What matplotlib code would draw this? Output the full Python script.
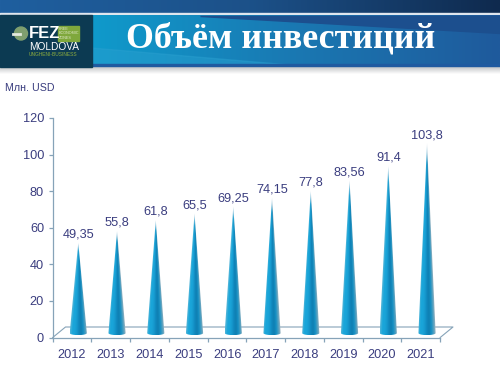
import matplotlib
matplotlib.use("Agg")
import matplotlib.pyplot as plt
import numpy as np
from matplotlib.patches import Polygon, Rectangle
from matplotlib.colors import LinearSegmentedColormap

years = ["2012", "2013", "2014", "2015", "2016", "2017", "2018", "2019", "2020", "2021"]
values = [49.35, 55.8, 61.8, 65.5, 69.25, 74.15, 77.8, 83.56, 91.4, 103.8]
value_labels = ["49,35", "55,8", "61,8", "65,5", "69,25", "74,15", "77,8", "83,56", "91,4", "103,8"]
y_ticks = [0, 20, 40, 60, 80, 100, 120]

W, H = 500, 375
text_color = "#3a3d7f"
axis_color = "#86a3b8"
plt.rcParams["font.family"] = ["Liberation Sans", "DejaVu Sans"]

fig = plt.figure(figsize=(5, 3.75), dpi=100, facecolor="white")


def grad(ax, x0, y0, x1, y1, colors, horizontal=True, zorder=1):
    cm = LinearSegmentedColormap.from_list("g", colors)
    g = np.linspace(0, 1, 256)
    g = g[None, :] if horizontal else g[:, None]
    ax.imshow(g, extent=(x0, x1, y1, y0), cmap=cm, aspect="auto", zorder=zorder, interpolation="bilinear")


# header drawn in pixel coordinates
bg = fig.add_axes([0, 0, 1, 1])
bg.axis("off")
grad(bg, 0, 0, 500, 13, ["#1f5f9f", "#1c5189", "#0f2a4e"])
bg.add_patch(Rectangle((0, 13), 500, 2, color="#dfe6ee", zorder=2))
grad(bg, 92, 15, 500, 66, ["#0f9acb", "#1a78b2", "#1f5a9c"], zorder=2)
bg.add_patch(Polygon([[200, 16], [500, 16], [500, 33]], color="#1c4f8e", zorder=3))
bg.add_patch(Polygon([[92, 48], [290, 65], [92, 65]], color="#2aa0d0", alpha=0.45, zorder=3))
bg.add_patch(Rectangle((92, 64), 408, 2, color="#1f5aa0", zorder=4))
bg.add_patch(Rectangle((0, 15), 92, 52, color="#0c3a52", zorder=5))
grad(bg, 0, 67, 500, 74, ["#c4c6c8", "#ffffff"], horizontal=False, zorder=2)
# logo
bg.add_patch(Rectangle((58, 26), 21, 15, color="#7fa83c", zorder=6))
bg.text(59, 33.5, "FREE\nECONOMIC\nZONES", color="#dfe8c8", fontsize=2.7, linespacing=1.1,
        ha="left", va="center", zorder=7)
bg.add_patch(plt.Circle((21, 33.5), 6.5, color="#7f9f6f", zorder=6))
bg.plot([13, 20], [33.5, 33.5], color="#e4e9de", lw=2, zorder=7)
bg.text(29, 33.5, "FEZ", color="white", fontsize=12, fontweight="bold", ha="left", va="center", zorder=7)
bg.text(29, 47, "MOLDOVA", color="white", fontsize=7.3, ha="left", va="center", zorder=7)
bg.text(29, 55, "UNGHENI-BUSINESS", color="#8fae3e", fontsize=3.5, ha="left", va="center", zorder=7)
bg.text(281, 38.5, "Объём инвестиций", family="Liberation Serif", fontweight="bold", color="white",
        fontsize=25.8, ha="center", va="center", zorder=7)
bg.text(5, 88, "Млн. USD", color=text_color, fontsize=7.7, ha="left", va="center", zorder=7)
bg.set_xlim(0, W)
bg.set_ylim(H, 0)

# chart
left, right, top, bottom = 52.7, 440.2, 118, 337.5
ax = fig.add_axes([left / W, 1 - bottom / H, (right - left) / W, (bottom - top) / H])
ax.patch.set_alpha(0)
ax.set_xlim(0, len(years))
ax.set_ylim(0, 120)

per_x = (right - left) / len(years)
per_y = (bottom - top) / 120
dx, dy = 12.8 / per_x, 10.5 / per_y

# floor
ax.plot([0, dx, len(years) + dx, len(years)], [0, dy, dy, 0], color=axis_color, lw=0.8, clip_on=False, zorder=1)

shade = LinearSegmentedColormap.from_list(
    "cone", ["#4fb4d8", "#19a6da", "#1aa4d8", "#1699ce", "#1087bd", "#0f7fb2", "#1590c4", "#4f9fc0", "#9db4c0"])

base_off = 2.4
half = 8.6 / per_x
cap = 2.0 / per_y
for i, v in enumerate(values):
    cx = i + 0.5 + 0.16
    xs = np.linspace(cx - half, cx + half, 60)
    ys = np.linspace(base_off - cap, base_off + v, 240)
    X, Y = np.meshgrid(xs, ys)
    local = half * np.clip(1 - (Y - base_off) / v, 0.001, None)
    U = np.clip((X - cx) / local * 0.5 + 0.5, 0, 1)
    rgba = shade(U)
    fade = np.clip((Y - (base_off + 0.9 * v)) / (0.1 * v), 0, 1)[..., None]
    rgba[..., :3] = rgba[..., :3] * (1 - fade) + np.array([0.78, 0.85, 0.9]) * fade
    im = ax.imshow(rgba, extent=(xs[0], xs[-1], ys[0], ys[-1]), origin="lower", aspect="auto",
                   zorder=3, interpolation="bilinear")
    arc = np.linspace(np.pi, 2 * np.pi, 24)
    outline = [[cx, base_off + v]] + [[cx + half * np.cos(a), base_off + cap * np.sin(a)] for a in arc[::-1]]
    clip = Polygon(outline, transform=ax.transData, fill=False, edgecolor="none")
    ax.add_patch(clip)
    im.set_clip_path(clip)
    ax.annotate(value_labels[i], (cx, base_off + v), xytext=(0, 1.5), textcoords="offset points",
                ha="center", va="bottom", color=text_color, fontsize=9.2, annotation_clip=False, zorder=4)

ax.set_xlim(0, len(years))
ax.set_ylim(0, 120)
for s in ["top", "right"]:
    ax.spines[s].set_visible(False)
for s in ["left", "bottom"]:
    ax.spines[s].set_color(axis_color)
    ax.spines[s].set_linewidth(0.9)
ax.set_yticks(y_ticks)
ax.set_xticks(np.arange(len(years) + 1))
ax.set_xticks(np.arange(len(years)) + 0.5, minor=True)
ax.set_xticklabels(years, minor=True)
ax.set_xticklabels([])
ax.tick_params(axis="x", which="minor", length=0, pad=8.5, labelsize=9.2, labelcolor=text_color)
ax.tick_params(axis="x", which="major", length=3.2, width=0.9, color=axis_color)
ax.tick_params(axis="y", length=3.2, width=0.9, color=axis_color, labelsize=9.2, labelcolor=text_color, pad=3)

fig.savefig("out.png", dpi=100)
